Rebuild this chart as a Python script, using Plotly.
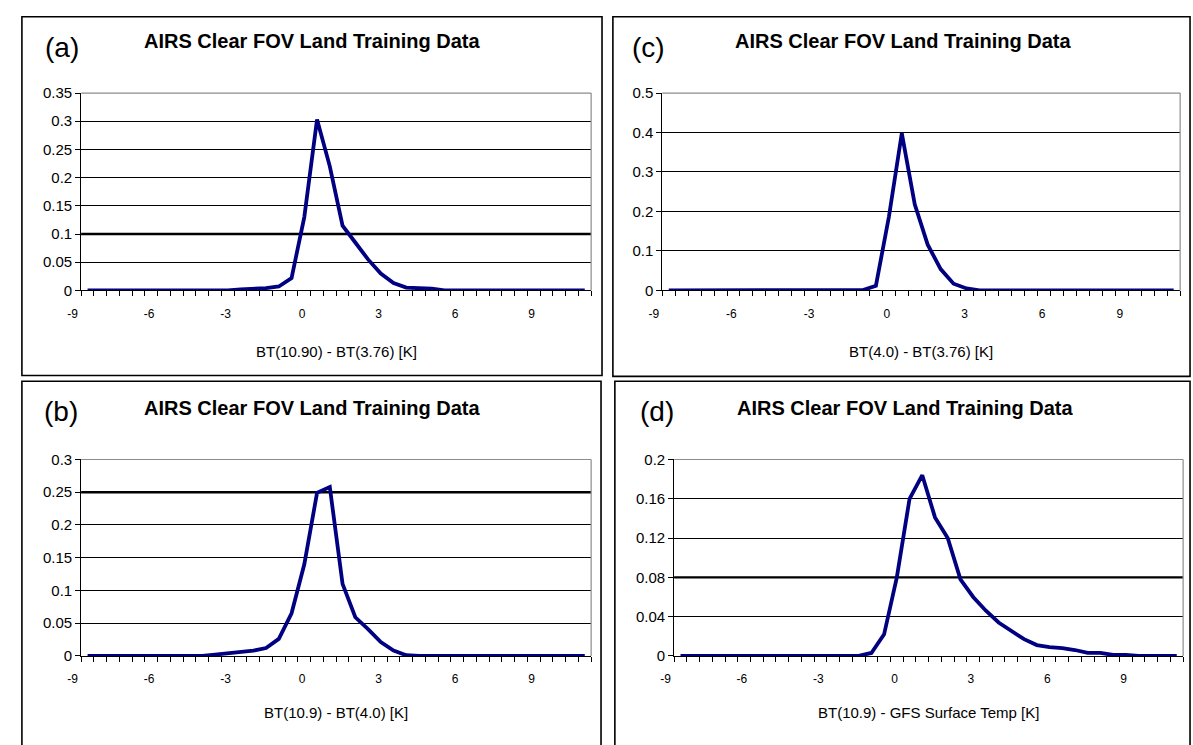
import plotly.graph_objects as go

# Category values (K), one every 0.5 K
x_cat = [-9.0, -8.5, -8.0, -7.5, -7.0, -6.5, -6.0, -5.5, -5.0, -4.5,
         -4.0, -3.5, -3.0, -2.5, -2.0, -1.5, -1.0, -0.5, 0.0, 0.5,
         1.0, 1.5, 2.0, 2.5, 3.0, 3.5, 4.0, 4.5, 5.0, 5.5,
         6.0, 6.5, 7.0, 7.5, 8.0, 8.5, 9.0, 9.5, 10.0, 10.5]

# (a) BT(10.90) - BT(3.76)
freq_a = [0, 0, 0, 0, 0, 0, 0, 0, 0, 0,
          0, 0, 0.002, 0.003, 0.004, 0.007, 0.022, 0.13, 0.303, 0.22,
          0.115, 0.085, 0.055, 0.03, 0.013, 0.005, 0.004, 0.003, 0, 0,
          0, 0, 0, 0, 0, 0, 0, 0, 0, 0]
# (b) BT(10.9) - BT(4.0)
freq_b = [0, 0, 0, 0, 0, 0, 0, 0, 0, 0,
          0.002, 0.004, 0.006, 0.008, 0.012, 0.026, 0.065, 0.14, 0.249, 0.258,
          0.11, 0.059, 0.041, 0.021, 0.008, 0.001, 0, 0, 0, 0,
          0, 0, 0, 0, 0, 0, 0, 0, 0, 0]
# (c) BT(4.0) - BT(3.76)
freq_c = [0, 0, 0, 0, 0, 0, 0, 0, 0, 0,
          0, 0, 0, 0, 0, 0.001, 0.012, 0.186, 0.398, 0.218,
          0.116, 0.054, 0.017, 0.005, 0, 0, 0, 0, 0, 0,
          0, 0, 0, 0, 0, 0, 0, 0, 0, 0]
# (d) BT(10.9) - GFS surface temperature
freq_d = [0, 0, 0, 0, 0, 0, 0, 0, 0, 0,
          0, 0, 0, 0, 0, 0.003, 0.022, 0.08, 0.16, 0.184,
          0.141, 0.12, 0.078, 0.06, 0.046, 0.034, 0.026, 0.017, 0.011, 0.009,
          0.008, 0.006, 0.003, 0.003, 0.001, 0.001, 0, 0, 0, 0]

x_tick_vals = [-9, -6, -3, 0, 3, 6, 9]
x_tick_text = ["-9", "-6", "-3", "0", "3", "6", "9"]

y_ticks_a = [0, 0.05, 0.1, 0.15, 0.2, 0.25, 0.3, 0.35]
y_text_a = ["0", "0.05", "0.1", "0.15", "0.2", "0.25", "0.3", "0.35"]
y_ticks_b = [0, 0.05, 0.1, 0.15, 0.2, 0.25, 0.3]
y_text_b = ["0", "0.05", "0.1", "0.15", "0.2", "0.25", "0.3"]
y_ticks_c = [0, 0.1, 0.2, 0.3, 0.4, 0.5]
y_text_c = ["0", "0.1", "0.2", "0.3", "0.4", "0.5"]
y_ticks_d = [0, 0.04, 0.08, 0.12, 0.16, 0.2]
y_text_d = ["0", "0.04", "0.08", "0.12", "0.16", "0.2"]

title_text = "AIRS Clear FOV Land Training Data"
x_titles = ["BT(10.90) - BT(3.76) [K]", "BT(10.9) - BT(4.0) [K]",
            "BT(4.0) - BT(3.76) [K]", "BT(10.9) - GFS Surface Temp [K]"]
panel_tags = ["(a)", "(b)", "(c)", "(d)"]
heavy_grid = [0.1, 0.25, None, 0.08]

W, H = 1193, 745
FONT = "Liberation Sans, Arial, sans-serif"
LINE_COLOR = "#000080"

# pixel layout of each chart: plot area (l, r, t, b) and frame (l, r, t, b)
panels = [
    dict(plot=(68, 584, 86, 288), frame=(8, 595, 8, 375), title_x=302, title_y=33,
         tag_x=49, tag_y=39, xt_y=350),
    dict(plot=(68, 584, 461, 662), frame=(8, 594, 381, 760), title_x=302, title_y=408,
         tag_x=48, tag_y=412, xt_y=720),
    dict(plot=(656, 1180, 86, 288), frame=(606, 1190, 8, 376), title_x=900, title_y=33,
         tag_x=642, tag_y=39, xt_y=350),
    dict(plot=(668, 1183, 461, 662), frame=(608, 1190, 381, 760), title_x=902, title_y=408,
         tag_x=651, tag_y=412, xt_y=720),
]
series = [freq_a, freq_b, freq_c, freq_d]
yticks = [(y_ticks_a, y_text_a), (y_ticks_b, y_text_b),
          (y_ticks_c, y_text_c), (y_ticks_d, y_text_d)]


def px(x):
    return x / W


def py(y):
    return 1 - y / H


step = x_cat[1] - x_cat[0]
x_lo = x_cat[0] - step / 2
x_hi = x_cat[-1] + step / 2
boundaries = [x_lo + step * i for i in range(len(x_cat) + 1)]

fig = go.Figure()
shapes = []
annotations = []

for i, p in enumerate(panels):
    n = "" if i == 0 else str(i + 1)
    xa, ya = "x" + n, "y" + n
    l, r, t, b = p["plot"]
    tv, tt = yticks[i]

    fig.add_trace(go.Scatter(
        x=x_cat, y=series[i], mode="lines", xaxis=xa, yaxis=ya,
        line=dict(color=LINE_COLOR, width=3.8), showlegend=False,
        hoverinfo="skip"))

    fig.update_layout({
        "xaxis" + n: dict(
            domain=[px(l), px(r)], anchor=ya, range=[x_lo, x_hi],
            showgrid=False, zeroline=False, showline=True,
            linecolor="black", linewidth=1,
            tickmode="array", tickvals=x_tick_vals, ticktext=x_tick_text,
            ticks="", ticklabelshift=-15, ticklabelstandoff=12,
            tickfont=dict(family=FONT, size=12, color="black"),
            minor=dict(tickmode="array", tickvals=boundaries, ticks="outside",
                       ticklen=5, tickwidth=1, tickcolor="black", showgrid=False),
            fixedrange=True),
        "yaxis" + n: dict(
            domain=[py(b), py(t)], anchor=xa, range=[tv[0], tv[-1]],
            tickmode="array", tickvals=tv, ticktext=tt,
            showgrid=True, gridcolor="black", gridwidth=1,
            zeroline=False, showline=True, linecolor="black", linewidth=1,
            ticks="outside", ticklen=5, tickcolor="black",
            tickfont=dict(family=FONT, size=15, color="black"),
            fixedrange=True),
    })

    # grey plot-area border on top and right
    shapes.append(dict(type="line", xref=xa + " domain", yref=ya + " domain",
                       x0=0, x1=1, y0=1, y1=1, line=dict(color="#8c8c8c", width=1.2),
                       layer="above"))
    shapes.append(dict(type="line", xref=xa + " domain", yref=ya + " domain",
                       x0=1, x1=1, y0=0, y1=1, line=dict(color="#8c8c8c", width=1.2),
                       layer="above"))
    if heavy_grid[i] is not None:
        shapes.append(dict(type="line", xref=xa + " domain", yref=ya,
                           x0=0, x1=1, y0=heavy_grid[i], y1=heavy_grid[i],
                           line=dict(color="black", width=2.4), layer="below"))

    # chart frame
    fl, fr, ft, fb = p["frame"]
    shapes.append(dict(type="rect", xref="paper", yref="paper",
                       x0=px(fl), x1=px(fr), y0=py(fb), y1=py(ft),
                       line=dict(color="black", width=1.6), layer="above"))

    annotations.append(dict(text="<b>" + title_text + "</b>", xref="paper", yref="paper",
                            x=px(p["title_x"]), y=py(p["title_y"]),
                            xanchor="center", yanchor="middle", showarrow=False,
                            font=dict(family=FONT, size=20, color="black")))
    annotations.append(dict(text=panel_tags[i], xref="paper", yref="paper",
                            x=px(p["tag_x"]), y=py(p["tag_y"]),
                            xanchor="center", yanchor="middle", showarrow=False,
                            font=dict(family=FONT, size=28, color="black")))
    annotations.append(dict(text=x_titles[i], xref="paper", yref="paper",
                            x=px((l + r) / 2), y=py(p["xt_y"]),
                            xanchor="center", yanchor="middle", showarrow=False,
                            font=dict(family=FONT, size=15, color="black")))

fig.update_layout(
    width=W, height=H, margin=dict(l=0, r=0, t=0, b=0),
    paper_bgcolor="white", plot_bgcolor="white",
    shapes=shapes, annotations=annotations, showlegend=False,
)

fig.write_html("out.html", config={"displayModeBar": False})
